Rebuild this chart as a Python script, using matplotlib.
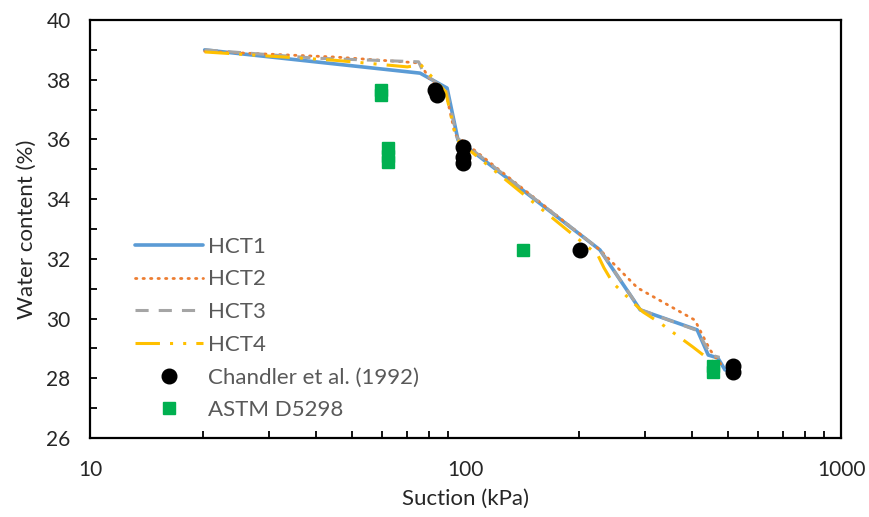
import matplotlib.pyplot as plt

# ==========================
# DATA
# ==========================

hct1_x = [20.2, 75.7, 89.3, 95.5, 228, 292, 414, 443, 470, 491]
hct1_y = [39.0, 38.22, 37.72, 35.98, 32.3, 30.29, 29.62, 28.78, 28.68, 28.28]

hct2_x = [20.2, 45, 75.5, 80.6, 88.5, 93.9, 228, 287, 408, 448, 480]
hct2_y = [38.95, 38.76, 38.56, 37.99, 37.59, 36.15, 32.3, 31.03, 29.95, 28.95, 28.45]

hct3_x = [20.2, 40, 75.0, 77.5, 89.0, 95.0, 228, 292, 414, 450, 475]
hct3_y = [39.0, 38.72, 38.6, 38.2, 37.66, 36.05, 32.3, 30.3, 29.6, 28.78, 28.7]

hct4_x = [20.2, 45, 70, 76, 88.5, 94.5, 225, 233.7, 247, 297, 330, 403, 440, 462]
hct4_y = [38.93, 38.65, 38.43, 38.5, 37.6, 36.0, 32.13, 31.7, 31.19, 30.22, 29.85, 29.05, 28.68, 28.5]

chandler_x = [82.9, 84.1, 98.5, 98.5, 98.5, 202, 515, 515]
chandler_y = [37.66, 37.49, 35.75, 35.41, 35.21, 32.3, 28.4, 28.2]

astm_x = [59.6, 59.6, 62.2, 62.2, 62.2, 142, 456, 456]
astm_y = [37.65, 37.5, 35.7, 35.45, 35.25, 32.3, 28.4, 28.2]

# ==========================
# FIGURE
# ==========================

plt.rcParams["font.family"] = ["Lato", "DejaVu Sans"]

fig = plt.figure(figsize=(8.69, 5.17), dpi=100)
ax = fig.add_axes([0.1036, 0.1528, 0.8642, 0.8085])

ax.plot(hct1_x, hct1_y, color="#5B9BD5", lw=2.6, label="HCT1",
        solid_joinstyle="round", solid_capstyle="round")
ax.plot(hct2_x, hct2_y, color="#ED7D31", lw=2.0, linestyle=(0, (0.5, 2.2)),
        dash_capstyle="round", label="HCT2")
ax.plot(hct3_x, hct3_y, color="#A5A5A5", lw=2.2, linestyle=(0, (4.3, 3.3)),
        label="HCT3")
ax.plot(hct4_x, hct4_y, color="#FFC000", lw=2.2,
        linestyle=(0, (8, 3.3, 1, 3.3, 1, 3.3)), label="HCT4")
ax.plot(chandler_x, chandler_y, "o", color="black", markersize=10.5,
        label="Chandler et al. (1992)")
ax.plot(astm_x, astm_y, "s", color="#00B050", markersize=8.5,
        label="ASTM D5298")

ax.set_xscale("log")
ax.set_xlim(10, 1000)
ax.set_ylim(26, 40)
ax.set_yticks(range(26, 41, 2))
ax.set_yticks(range(27, 40, 2), minor=True)
ax.set_xticks([10, 100, 1000])
ax.set_xticklabels(["10", "100", "1000"])

for side in ["left", "right", "top", "bottom"]:
    ax.spines[side].set_linewidth(1.6)
    ax.spines[side].set_color("black")

ax.tick_params(which="both", direction="in", top=False, right=False,
               width=1.3, colors="black", labelcolor="#262626",
               labelsize=15)
ax.tick_params(axis="y", which="both", length=5, pad=14)
ax.tick_params(axis="x", which="both", length=5, pad=16)
ax.tick_params(axis="x", which="major", length=0)

ax.set_xlabel("Suction (kPa)", fontsize=16, color="#262626", labelpad=6)
ax.set_ylabel("Water content (%)", fontsize=16, color="#262626", labelpad=7)

leg = ax.legend(loc="upper left", bbox_to_anchor=(0.045, 0.508),
                frameon=False, fontsize=16, handlelength=3.05,
                handletextpad=0.25, labelspacing=0.57, borderpad=0)
for txt in leg.get_texts():
    txt.set_color("#595959")

plt.savefig("out.png", dpi=100)
plt.close()
